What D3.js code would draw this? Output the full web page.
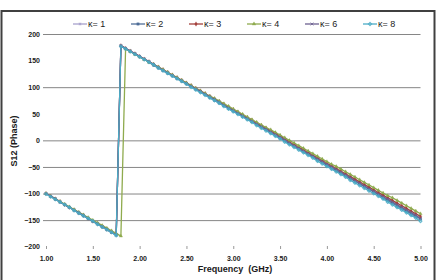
<!DOCTYPE html>
<html lang="en">
  <head>
    <meta charset="UTF-8" />
    <title>S12 Phase</title>
    <style>
      body { margin: 0; background: #fff; }
      .chart { width: 438px; height: 280px; }
      text { font-family: "Liberation Sans", Arial, sans-serif; fill: #1a1a1a; }
    </style>
  </head>
  <body>
    <div class="chart"></div>

    <script src="https://d3js.org/d3.v7.min.js"></script>

    <script>
      // frequency points (GHz), one row per 0.5 GHz
      const freq = [
        1.00, 1.05, 1.10, 1.15, 1.20, 1.25, 1.30, 1.35, 1.40, 1.45,
        1.50, 1.55, 1.60, 1.65, 1.70, 1.75, 1.80, 1.85, 1.90, 1.95,
        2.00, 2.05, 2.10, 2.15, 2.20, 2.25, 2.30, 2.35, 2.40, 2.45,
        2.50, 2.55, 2.60, 2.65, 2.70, 2.75, 2.80, 2.85, 2.90, 2.95,
        3.00, 3.05, 3.10, 3.15, 3.20, 3.25, 3.30, 3.35, 3.40, 3.45,
        3.50, 3.55, 3.60, 3.65, 3.70, 3.75, 3.80, 3.85, 3.90, 3.95,
        4.00, 4.05, 4.10, 4.15, 4.20, 4.25, 4.30, 4.35, 4.40, 4.45,
        4.50, 4.55, 4.60, 4.65, 4.70, 4.75, 4.80, 4.85, 4.90, 4.95,
        5.00
      ]

      const k1 = [
        -100, -105, -110, -116, -121, -126, -131, -136, -142, -147,
        -152, -157, -162, -168, -173, -178, 178, 173, 168, 163,
        158, 153, 148, 143, 138, 132, 127, 122, 117, 112,
        107, 102, 97, 92, 87, 82, 77, 72, 67, 62,
        57, 51, 46, 41, 36, 31, 26, 21, 16, 11,
        6, 1, -4, -9, -14, -19, -24, -29, -35, -40,
        -45, -50, -55, -60, -65, -70, -75, -80, -85, -90,
        -95, -100, -105, -110, -115, -121, -126, -131, -136, -141,
        -146
      ]
      const k2 = [
        -100, -105, -111, -116, -121, -126, -131, -137, -142, -147,
        -152, -157, -163, -168, -173, -178, 177, 172, 167, 162,
        157, 152, 147, 141, 136, 131, 126, 121, 116, 111,
        106, 101, 96, 91, 86, 80, 75, 70, 65, 60,
        55, 50, 45, 40, 35, 30, 25, 20, 14, 9,
        4, -1, -6, -11, -16, -21, -26, -31, -36, -41,
        -47, -52, -57, -62, -67, -72, -77, -82, -87, -92,
        -97, -102, -108, -113, -118, -123, -128, -133, -138, -143,
        -148
      ]
      const k3 = [
        -100, -105, -110, -115, -121, -126, -131, -136, -141, -147,
        -152, -157, -162, -167, -172, -177, 178, 173, 168, 163,
        158, 153, 148, 143, 138, 133, 128, 123, 118, 113,
        108, 103, 98, 93, 88, 83, 78, 73, 68, 63,
        58, 53, 48, 43, 38, 33, 28, 23, 18, 13,
        8, 3, -3, -8, -13, -18, -23, -28, -33, -38,
        -43, -48, -53, -58, -63, -68, -73, -78, -83, -88,
        -93, -98, -103, -108, -113, -118, -123, -128, -133, -138,
        -143
      ]
      const k4 = [
        -100, -105, -110, -115, -120, -125, -130, -135, -140, -145,
        -150, -155, -160, -165, -170, -175, -180, 172, 167, 162,
        157, 152, 147, 143, 138, 133, 128, 123, 118, 113,
        108, 103, 98, 93, 88, 83, 79, 74, 69, 64,
        59, 54, 49, 44, 39, 34, 29, 24, 20, 15,
        10, 5, 0, -5, -10, -15, -20, -25, -30, -35,
        -40, -45, -49, -54, -59, -64, -69, -74, -79, -84,
        -89, -94, -99, -104, -108, -113, -118, -123, -128, -133,
        -138
      ]
      const k6 = [
        -100, -105, -110, -116, -121, -126, -131, -136, -141, -147,
        -152, -157, -162, -167, -173, -178, 178, 173, 168, 163,
        158, 153, 148, 143, 137, 132, 127, 122, 117, 112,
        107, 102, 97, 92, 87, 82, 77, 72, 66, 61,
        56, 51, 46, 41, 36, 31, 26, 21, 16, 11,
        6, 1, -5, -10, -15, -20, -25, -30, -35, -40,
        -45, -50, -55, -60, -65, -70, -76, -81, -86, -91,
        -96, -101, -106, -111, -116, -121, -126, -131, -136, -141,
        -147
      ]
      const k8 = [
        -101, -106, -111, -116, -121, -126, -132, -137, -142, -147,
        -152, -158, -163, -168, -173, -179, 177, 172, 167, 162,
        157, 152, 147, 142, 136, 131, 126, 121, 116, 111,
        106, 100, 95, 90, 85, 80, 75, 70, 64, 59,
        54, 49, 44, 39, 34, 28, 23, 18, 13, 8,
        3, -3, -8, -13, -18, -23, -28, -33, -39, -44,
        -49, -54, -59, -64, -69, -75, -80, -85, -90, -95,
        -100, -105, -110, -116, -121, -126, -131, -136, -141, -146,
        -152
      ]

      const seriesNames = ['κ= 1', 'κ= 2', 'κ= 3', 'κ= 4', 'κ= 6', 'κ= 8']
      const seriesValues = [k1, k2, k3, k4, k6, k8]
      const seriesColors = ['#a7a1cd', '#4f6e98', '#a3403c', '#8fab4e', '#6c6190', '#4bacc6']
      const seriesMarkers = ['star', 'square', 'diamond', 'triangle', 'cross', 'plus']

      const xTicks = [1.0, 1.5, 2.0, 2.5, 3.0, 3.5, 4.0, 4.5, 5.0]
      const yTicks = [200, 150, 100, 50, 0, -50, -100, -150, -200]
      const yGrid = [200, 100, 0, -50, -100, -150]

      const width = 438
      const height = 280

      const svg = d3.select('.chart')
        .append('svg')
        .attr('width', width)
        .attr('height', height)

      // outer frame
      svg.append('rect')
        .attr('x', 1.5)
        .attr('y', 11)
        .attr('width', 433)
        .attr('height', 276)
        .attr('fill', '#fff')
        .attr('stroke', '#404040')
        .attr('stroke-width', 2)

      const xScale = d3.scaleLinear().domain([1, 5]).range([46, 420.5])
      const yScale = d3.scaleLinear().domain([-200, 200]).range([246.7, 34])

      // gridlines
      svg.append('g')
        .selectAll('line')
        .data(yGrid)
        .join('line')
        .attr('x1', 43)
        .attr('x2', xScale(5))
        .attr('y1', d => yScale(d) + 0.5)
        .attr('y2', d => yScale(d) + 0.5)
        .attr('stroke', '#868686')
        .attr('stroke-width', 1)

      // y tick labels
      const yAxis = d3.axisLeft(yScale).tickValues(yTicks).tickSize(0).tickPadding(0)
      const yAxisGroup = svg.append('g')
        .attr('transform', 'translate(40,0)')
        .call(yAxis)
      yAxisGroup.select('.domain').remove()
      yAxisGroup.selectAll('text')
        .style('font-size', '7px')
        .style('font-weight', 'bold')
        .attr('fill', '#1a1a1a')

      // x ticks and labels
      const xAxis = d3.axisBottom(xScale).tickValues(xTicks).tickSize(3).tickPadding(7)
        .tickFormat(d3.format('.2f'))
      const xAxisGroup = svg.append('g')
        .attr('transform', 'translate(0,246)')
        .call(xAxis)
      xAxisGroup.select('.domain').remove()
      xAxisGroup.selectAll('line').attr('stroke', '#999')
      xAxisGroup.selectAll('text')
        .style('font-size', '7px')
        .style('font-weight', 'bold')
        .attr('fill', '#1a1a1a')

      // axis titles
      svg.append('text')
        .attr('x', 235)
        .attr('y', 272)
        .attr('text-anchor', 'middle')
        .style('font-size', '9px')
        .style('font-weight', 'bold')
        .style('white-space', 'pre')
        .text('Frequency  (GHz)')

      svg.append('text')
        .attr('transform', 'translate(17,141) rotate(-90)')
        .attr('text-anchor', 'middle')
        .style('font-size', '9px')
        .style('font-weight', 'bold')
        .text('S12 (Phase)')

      const symbolFor = {
        star: d3.symbolAsterisk,
        square: d3.symbolSquare,
        diamond: d3.symbolDiamond,
        triangle: d3.symbolTriangle,
        cross: d3.symbolX,
        plus: d3.symbolCross
      }
      const filled = { square: true, diamond: true, triangle: true }

      const drawMarker = (g, type, color, size) => {
        g.append('path')
          .attr('d', d3.symbol().type(symbolFor[type]).size(size))
          .attr('fill', filled[type] ? color : 'none')
          .attr('stroke', color)
          .attr('stroke-width', filled[type] ? 0.3 : 0.8)
      }

      const line = d3.line()
        .x((d, i) => xScale(freq[i]))
        .y(d => yScale(d))

      // series
      seriesValues.forEach((vals, s) => {
        const g = svg.append('g')
        g.append('path')
          .datum(vals)
          .attr('d', line)
          .attr('fill', 'none')
          .attr('stroke', seriesColors[s])
          .attr('stroke-width', 1.3)

        g.selectAll('g.pt')
          .data(vals)
          .join('g')
          .attr('class', 'pt')
          .attr('transform', (d, i) => `translate(${xScale(freq[i])},${yScale(d)})`)
          .each(function () {
            drawMarker(d3.select(this), seriesMarkers[s], seriesColors[s], 5)
          })
      })

      // legend
      const legend = svg.append('g')
        .selectAll('g')
        .data(seriesNames)
        .join('g')
        .attr('transform', (d, i) => `translate(${73 + i * 58},24)`)

      legend.append('line')
        .attr('x1', 0)
        .attr('x2', 14)
        .attr('stroke', (d, i) => seriesColors[i])
        .attr('stroke-width', 1.3)

      legend.each(function (d, i) {
        const m = d3.select(this).append('g').attr('transform', 'translate(7,0)')
        drawMarker(m, seriesMarkers[i], seriesColors[i], 6)
      })

      legend.append('text')
        .attr('x', 15)
        .attr('y', 3.2)
        .style('font-size', '9px')
        .text(d => d)
    </script>
  </body>
</html>
